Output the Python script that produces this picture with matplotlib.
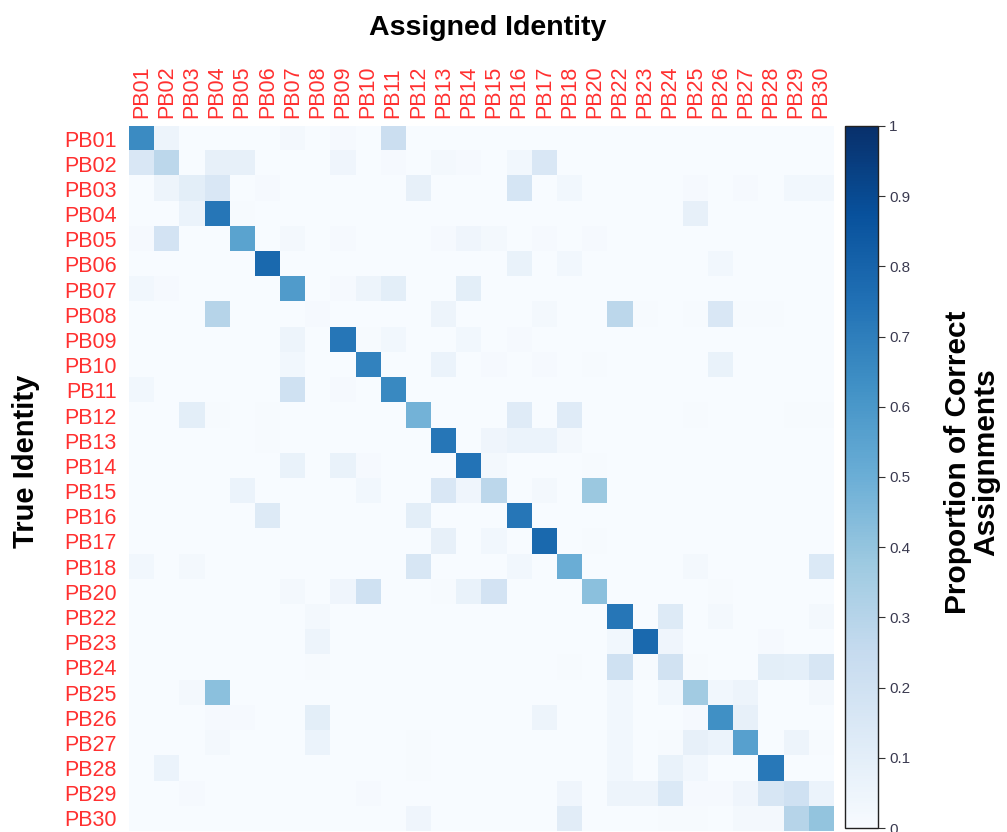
import numpy as np
import matplotlib
matplotlib.use("Agg")
import matplotlib.pyplot as plt

plt.rcParams["font.family"] = ["Liberation Sans", "DejaVu Sans"]

ids = ["PB01", "PB02", "PB03", "PB04", "PB05", "PB06", "PB07", "PB08", "PB09",
       "PB10", "PB11", "PB12", "PB13", "PB14", "PB15", "PB16", "PB17", "PB18",
       "PB20", "PB22", "PB23", "PB24", "PB25", "PB26", "PB27", "PB28", "PB29",
       "PB30"]

# proportion of assignments, one row per true identity
pb01 = [.65, .05, 0, 0, 0, 0, .02, 0, .01, 0, .22, 0, 0, 0, 0, 0, 0, 0, 0, 0, 0, 0, 0, 0, 0, 0, 0, 0]
pb02 = [.15, .28, 0, .08, .08, 0, 0, 0, .04, 0, .01, 0, .02, .01, 0, .03, .15, 0, 0, 0, 0, 0, 0, 0, 0, 0, 0, 0]
pb03 = [0, .05, .1, .15, 0, .01, 0, 0, 0, 0, 0, .08, 0, 0, 0, .17, 0, .03, 0, 0, 0, 0, .01, 0, .01, 0, .03, .03]
pb04 = [0, 0, .06, .73, .005, 0, 0, 0, 0, 0, 0, 0, 0, 0, 0, 0, 0, 0, 0, 0, 0, 0, .08, 0, 0, 0, 0, 0]
pb05 = [.01, .18, 0, 0, .55, 0, .02, 0, .01, 0, 0, 0, .01, .04, .02, 0, .01, 0, .01, 0, 0, 0, 0, 0, 0, 0, 0, 0]
pb06 = [0, 0, 0, 0, 0, .78, 0, 0, 0, 0, 0, 0, 0, 0, 0, .07, 0, .03, 0, 0, 0, 0, 0, .03, 0, 0, 0, 0]
pb07 = [.03, .01, 0, 0, 0, 0, .58, 0, .01, .05, .1, 0, 0, .1, 0, 0, 0, 0, 0, 0, 0, 0, 0, 0, 0, 0, 0, 0]
pb08 = [0, 0, 0, .3, 0, 0, 0, .01, 0, 0, 0, 0, .05, 0, 0, 0, .02, 0, 0, .28, .005, 0, .005, .15, .005, .005, 0, 0]
pb09 = [0, 0, 0, 0, 0, 0, .05, 0, .73, .005, .03, 0, 0, .03, 0, .01, 0, 0, 0, 0, 0, 0, 0, 0, 0, 0, 0, 0]
pb10 = [0, 0, 0, 0, 0, 0, .03, 0, 0, .68, 0, 0, .06, 0, .01, 0, .01, 0, .005, 0, 0, 0, 0, .07, 0, 0, 0, 0]
pb11 = [.03, 0, 0, 0, 0, 0, .2, 0, .01, 0, .66, 0, 0, 0, 0, 0, 0, 0, 0, 0, 0, 0, 0, 0, 0, 0, 0, 0]
pb12 = [0, 0, .1, .005, 0, .005, 0, 0, 0, 0, 0, .48, 0, 0, 0, .12, 0, .12, 0, 0, 0, 0, .005, 0, 0, 0, .005, .005]
pb13 = [0, 0, 0, 0, 0, .005, 0, 0, 0, 0, 0, 0, .73, 0, .04, .06, .06, .02, 0, 0, 0, 0, 0, 0, 0, 0, 0, 0]
pb14 = [0, 0, 0, 0, 0, 0, .07, 0, .07, .01, 0, 0, 0, .74, .02, 0, 0, 0, .005, 0, 0, 0, 0, 0, 0, 0, 0, 0]
pb15 = [0, 0, 0, 0, .06, 0, 0, 0, 0, .03, 0, 0, .15, .04, .28, 0, .02, 0, .38, 0, 0, 0, 0, 0, 0, 0, 0, 0]
pb16 = [0, 0, 0, 0, 0, .13, 0, 0, 0, 0, 0, .1, 0, 0, 0, .73, 0, 0, 0, 0, 0, 0, 0, 0, 0, 0, 0, 0]
pb17 = [0, 0, 0, 0, 0, 0, 0, 0, 0, 0, 0, 0, .08, 0, .03, 0, .78, 0, .005, 0, 0, 0, 0, 0, 0, 0, 0, 0]
pb18 = [.03, 0, .02, 0, 0, 0, 0, 0, 0, 0, 0, .16, 0, 0, 0, .03, 0, .5, 0, 0, 0, 0, .02, 0, 0, 0, 0, .14]
pb20 = [0, 0, 0, 0, 0, 0, .02, 0, .04, .2, 0, 0, .005, .07, .18, 0, 0, 0, .42, 0, 0, 0, 0, .005, 0, 0, 0, 0]
pb22 = [0, 0, 0, 0, 0, 0, 0, .02, 0, 0, 0, 0, 0, 0, 0, 0, 0, 0, 0, .73, 0, .13, 0, .02, 0, 0, 0, .02]
pb23 = [0, 0, 0, 0, 0, 0, 0, .05, 0, 0, 0, 0, 0, 0, 0, 0, 0, 0, 0, .03, .78, .04, 0, 0, 0, .01, 0, 0]
pb24 = [0, 0, 0, 0, 0, 0, 0, .005, 0, 0, 0, 0, 0, 0, 0, 0, 0, .005, 0, .2, .005, .19, .005, 0, 0, .1, .09, .16]
pb25 = [0, 0, .02, .42, 0, 0, 0, 0, 0, 0, 0, 0, 0, 0, 0, 0, 0, 0, 0, .03, 0, .03, .36, .03, .05, 0, 0, .02]
pb26 = [0, 0, 0, .01, .01, 0, 0, .1, 0, 0, 0, 0, 0, 0, 0, 0, .05, 0, 0, .03, 0, 0, .01, .63, .08, 0, 0, 0]
pb27 = [0, 0, 0, .02, 0, 0, 0, .06, 0, 0, 0, .005, 0, 0, 0, 0, 0, 0, 0, .03, 0, .005, .08, .06, .56, 0, .05, .005]
pb28 = [0, .06, 0, 0, 0, 0, 0, 0, 0, 0, 0, .005, 0, 0, 0, 0, 0, 0, 0, .03, 0, .07, .03, 0, 0, .72, 0, 0]
pb29 = [0, 0, .01, 0, 0, 0, 0, 0, 0, .01, 0, 0, 0, 0, 0, 0, 0, .04, 0, .05, .05, .14, .01, .01, .04, .16, .2, .06]
pb30 = [0, 0, 0, 0, 0, 0, 0, 0, 0, 0, 0, .04, 0, 0, 0, 0, 0, .11, 0, 0, 0, .005, .005, 0, .02, .02, .3, .4]

mat = np.array([pb01, pb02, pb03, pb04, pb05, pb06, pb07, pb08, pb09, pb10,
                pb11, pb12, pb13, pb14, pb15, pb16, pb17, pb18, pb20, pb22,
                pb23, pb24, pb25, pb26, pb27, pb28, pb29, pb30])

fig = plt.figure(figsize=(10.07, 8.32), dpi=100)
ax = fig.add_axes([0.128, 0.0012, 0.7, 0.8474])
im = ax.imshow(mat, cmap="Blues", vmin=0, vmax=1, aspect="auto",
               interpolation="nearest")

ax.set_xticks(range(len(ids)))
ax.set_yticks(range(len(ids)))
ax.set_xticklabels(ids, rotation=90, color="#ff3030", fontsize=15.5)
ax.set_yticklabels(ids, color="#ff3030", fontsize=15.5)
ax.xaxis.tick_top()
ax.tick_params(axis="x", length=0, pad=5.5)
ax.tick_params(axis="y", length=0, pad=9)
for s in ax.spines.values():
    s.set_visible(False)

cax = fig.add_axes([0.839, 0.0048, 0.033, 0.8438])
cb = fig.colorbar(im, cax=cax, ticks=np.arange(0, 1.01, 0.1))
cb.ax.set_yticklabels(["0", "0.1", "0.2", "0.3", "0.4", "0.5", "0.6",
                       "0.7", "0.8", "0.9", "1"])
cb.ax.tick_params(length=5, width=0.8, color="#333333", labelsize=11,
                  labelcolor="#3a3a50", pad=3)
cb.outline.set_edgecolor("#222222")
cb.outline.set_linewidth(1)

fig.text(0.484, 0.966, "Assigned Identity", ha="center", va="center",
         fontsize=20.5, fontweight="bold")
fig.text(0.026, 0.445, "True Identity", ha="center", va="center",
         rotation=90, fontsize=21, fontweight="bold")
fig.text(0.965, 0.445, "Proportion of Correct\nAssignments", ha="center",
         va="center", rotation=90, fontsize=21.5, fontweight="bold",
         linespacing=1.0)

fig.savefig("out.png", dpi=100)
